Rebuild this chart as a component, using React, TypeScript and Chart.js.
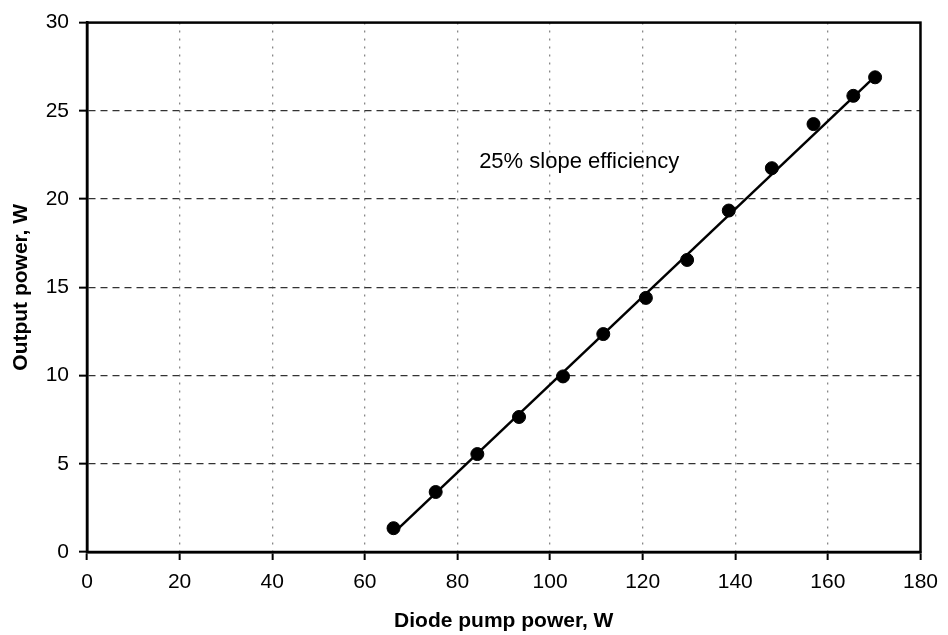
import React, { useEffect, useRef } from "react";
import { Chart, registerables } from "chart.js";

Chart.register(...registerables);

const pumpPower = [66.2, 75.3, 84.3, 93.3, 102.8, 111.5, 120.7, 129.6, 138.6, 147.9, 156.9, 165.5, 170.2];
const outputPower = [1.35, 3.4, 5.55, 7.65, 9.95, 12.35, 14.4, 16.55, 19.35, 21.75, 24.25, 25.85, 26.9];
const fitX = [66.3, 170.2];
const fitY = [1.1, 26.95];
const annotationText = "25% slope efficiency";
const annotationPos = [106.3, 22.1];

const FONT = "'Liberation Sans', Arial, sans-serif";

const frame = {
  id: "frame",
  afterDraw(chart: any) {
    const { ctx, chartArea, scales } = chart;
    ctx.save();
    ctx.strokeStyle = "#000";
    ctx.lineWidth = 2.5;
    ctx.strokeRect(chartArea.left, chartArea.top, chartArea.right - chartArea.left, chartArea.bottom - chartArea.top);
    ctx.fillStyle = "#000";
    ctx.font = `22px ${FONT}`;
    ctx.textAlign = "center";
    ctx.textBaseline = "middle";
    ctx.fillText(annotationText, scales.x.getPixelForValue(annotationPos[0]), scales.y.getPixelForValue(annotationPos[1]));
    ctx.restore();
  },
};

export default function App() {
  const ref = useRef<HTMLCanvasElement | null>(null);
  useEffect(() => {
    if (!ref.current) return;
    const chart = new Chart(ref.current, {
      type: "scatter",
      data: {
        datasets: [
          {
            label: "fit",
            data: fitX.map((x, i) => ({ x, y: fitY[i] })),
            showLine: true,
            borderColor: "#000",
            borderWidth: 2.5,
            pointRadius: 0,
          },
          {
            label: "measured",
            data: pumpPower.map((x, i) => ({ x, y: outputPower[i] })),
            backgroundColor: "#000",
            borderColor: "#000",
            pointRadius: 6.5,
          },
        ],
      },
      options: {
        responsive: false,
        animation: false,
        layout: { padding: { left: 0, right: 22, top: 21, bottom: 0 } },
        plugins: { legend: { display: false }, tooltip: { enabled: false } },
        scales: {
          x: {
            type: "linear",
            min: 0,
            max: 180,
            ticks: { stepSize: 20, color: "#000", padding: 10, font: { family: FONT, size: 21 } },
            grid: {
              color: (c: any) => (c.tick && (c.tick.value === 0 || c.tick.value === 180) ? "rgba(0,0,0,0)" : "#888"),
              lineWidth: 1.3,
              tickColor: "#000",
              tickLength: 8,
              tickWidth: 2,
              tickBorderDash: [],
            },
            border: { display: true, color: "#000", width: 2.5, dash: [2, 6] },
            title: { display: true, text: "Diode pump power, W", color: "#000", padding: { top: 0, bottom: 1 }, font: { family: FONT, size: 21, weight: "bold" } },
            afterFit: (s: any) => { s.height = 83; },
          },
          y: {
            type: "linear",
            min: 0,
            max: 30,
            ticks: { stepSize: 5, color: "#000", padding: 10, font: { family: FONT, size: 21 } },
            grid: {
              color: (c: any) => (c.tick && (c.tick.value === 0 || c.tick.value === 30) ? "rgba(0,0,0,0)" : "#333"),
              lineWidth: 1.3,
              tickColor: "#000",
              tickLength: 8,
              tickWidth: 2,
              tickBorderDash: [],
            },
            border: { display: true, color: "#000", width: 2.5, dash: [7, 5] },
            title: { display: true, text: "Output power, W", color: "#000", padding: { top: 9, bottom: 0 }, font: { family: FONT, size: 21, weight: "bold" } },
            afterFit: (s: any) => { s.width = 87; },
          },
        },
      },
      plugins: [frame],
    } as any);
    return () => chart.destroy();
  }, []);
  return (
    <div style={{ position: "absolute", left: 0, top: 0, width: 948, height: 635, background: "#fff" }}>
      <canvas ref={ref} width={948} height={635} />
    </div>
  );
}
